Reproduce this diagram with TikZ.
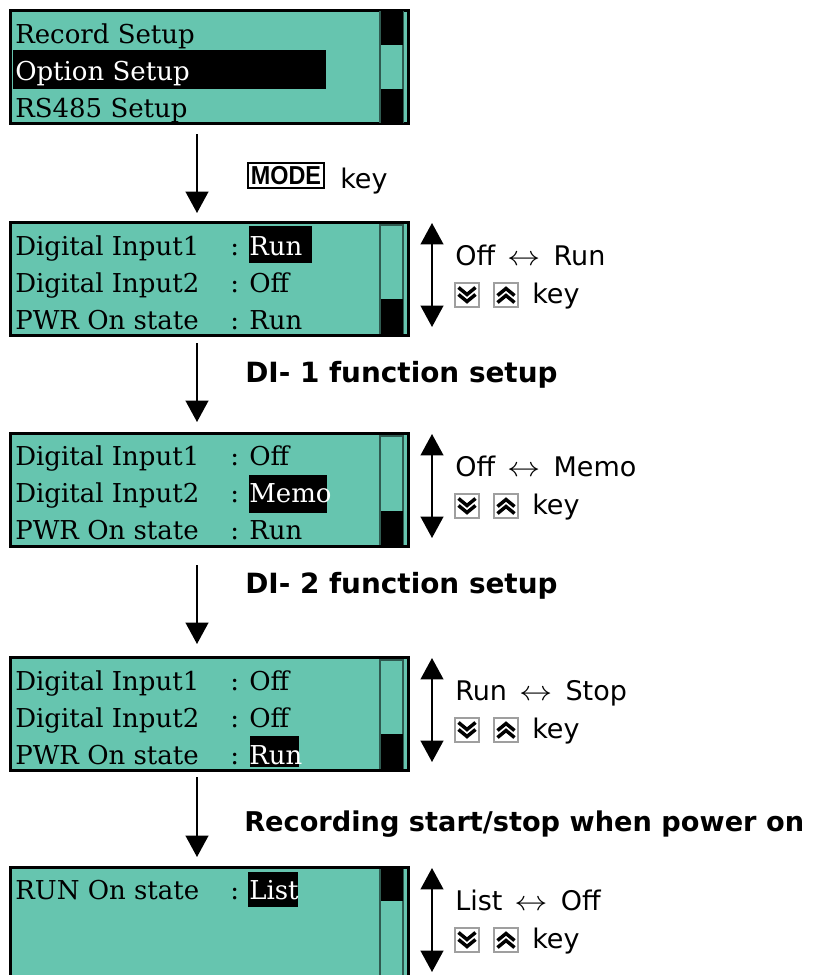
\documentclass[tikz,border=0pt]{standalone}
\usepackage{graphicx}
\usepackage{fontspec}
\setmainfont{DejaVu Serif}
\newfontfamily\gothic{DejaVu Sans}
\newfontfamily\arialf{Liberation Sans}
\usetikzlibrary{arrows.meta,calc}
\definecolor{lcdteal}{HTML}{66C5AF}
\definecolor{sbline}{HTML}{2F5A50}
\newcommand\lrarr{\hspace{9pt}\scalebox{1.2}[1]{$\leftrightarrow$}\hspace{10pt}}
\begin{document}
\begin{tikzpicture}[x=0.75pt,y=-0.75pt,
  lcd/.style={draw=black,line width=2.25pt,fill=lcdteal,rectangle,minimum width=298.5pt,outer sep=0pt,inner sep=0pt,anchor=north west},
  sbtrack/.style={draw=sbline,line width=1.1pt,fill=lcdteal},
  lt/.style={anchor=base west,inner sep=0pt,font=\fontsize{19.5pt}{22pt}\selectfont},
  lw/.style={lt,text=white},
  flow/.style={-{Triangle[width=17pt,length=16pt]},line width=1.5pt},
  flow2/.style={{Triangle[width=17pt,length=16pt]}-{Triangle[width=17pt,length=16pt]},line width=1.5pt},
  lab/.style={anchor=base west,inner sep=0pt,font=\gothic\fontsize{20.25pt}{24pt}\selectfont},
  blab/.style={anchor=base west,inner sep=0pt,font=\gothic\bfseries\fontsize{20.9pt}{24pt}\selectfont},
  blabs/.style={anchor=base west,inner sep=0pt,font=\gothic\bfseries\fontsize{20.4pt}{24pt}\selectfont},
  keyframe/.style={draw=gray!75,line width=0.8pt,fill=white},
  chev/.style={draw=black,line width=2.6pt,line cap=butt,line join=miter},
  dnkey/.pic={\draw[keyframe] (0,0) rectangle (24,24);
              \draw[chev] (3.5,4.5)--(12,11.5)--(20.5,4.5) (3.5,11.5)--(12,18.5)--(20.5,11.5);},
  upkey/.pic={\draw[keyframe] (0,0) rectangle (24,24);
              \draw[chev] (3.5,19.5)--(12,12.5)--(20.5,19.5) (3.5,12.5)--(12,5.5)--(20.5,12.5);}
]
\clip (0,0) rectangle (816,975);
\fill[white] (0,0) rectangle (816,975);

% ---------- Box 1
\node[lcd,minimum height=84.75pt] (b1) at (10,10) {};
\draw[sbtrack] (380,12) rectangle (403,122);
\fill[black] (381,11) rectangle (402.5,45);
\fill[black] (381,89) rectangle (402.5,122.5);
\fill[black] (13,50) rectangle (326,89);
\node[lt] (t11) at (15,43) {Record Setup};
\node[lw] (t12) at (15,80) {Option Setup};
\node[lt] (t13) at (15,117) {RS485 Setup};

% ---------- Box 2
\node[lcd,minimum height=84.75pt] (b2) at (10,222) {};
\draw[sbtrack] (380,225) rectangle (403,333);
\fill[black] (381,299) rectangle (402.5,333.5);
\fill[black] (249,226) rectangle (312,263);
\node[lt] (t21) at (15,255) {Digital Input1};
\node[lt] (t22) at (15,292) {Digital Input2};
\node[lt] (t23) at (15,329) {PWR On state};
\node[lt] (c21) at (230,255) {:};
\node[lt] (c22) at (230,292) {:};
\node[lt] (c23) at (230,329) {:};
\node[lw] (v21) at (249,255) {Run};
\node[lt] (v22) at (249,292) {Off};
\node[lt] (v23) at (249,329) {Run};

% ---------- Box 3
\node[lcd,minimum height=84.75pt] (b3) at (10,433) {};
\draw[sbtrack] (380,436) rectangle (403,544);
\fill[black] (381,511) rectangle (402.5,544.5);
\fill[black] (249,475) rectangle (327,513);
\node[lt] (t31) at (15,465) {Digital Input1};
\node[lt] (t32) at (15,502) {Digital Input2};
\node[lt] (t33) at (15,539) {PWR On state};
\node[lt] (c31) at (230,465) {:};
\node[lt] (c32) at (230,502) {:};
\node[lt] (c33) at (230,539) {:};
\node[lt] (v31) at (249,465) {Off};
\node[lw] (v32) at (249,502) {Memo};
\node[lt] (v33) at (249,539) {Run};

% ---------- Box 4
\node[lcd,minimum height=84.75pt] (b4) at (10,657) {};
\draw[sbtrack] (380,660) rectangle (403,768);
\fill[black] (381,734) rectangle (402.5,768.5);
\fill[black] (250,736) rectangle (299,767);
\node[lt] (t41) at (15,690) {Digital Input1};
\node[lt] (t42) at (15,727) {Digital Input2};
\node[lt] (t43) at (15,764) {PWR On state};
\node[lt] (c41) at (230,690) {:};
\node[lt] (c42) at (230,727) {:};
\node[lt] (c43) at (230,764) {:};
\node[lt] (v41) at (249,690) {Off};
\node[lt] (v42) at (249,727) {Off};
\node[lw] (v43) at (249,764) {Run};

% ---------- Box 5
\node[lcd,minimum height=97.5pt] (b5) at (10,867) {};
\draw[sbtrack] (380,870) rectangle (403,995);
\fill[black] (381,869) rectangle (402.5,901);
\fill[black] (248,872) rectangle (298,907);
\node[lt] (t51) at (15,899) {RUN On state};
\node[lt] (c51) at (230,899) {:};
\node[lw] (v51) at (249,899) {List};

% ---------- flow arrows
\draw[flow] ($(b1.south west)+(187,11)$) -- ($(b2.north west)+(187,-9)$);
\draw[flow] ($(b2.south west)+(187,8)$) -- ($(b3.north west)+(187,-11)$);
\draw[flow] ($(b3.south west)+(187,19)$) -- ($(b4.north west)+(187,-13)$);
\draw[flow] ($(b4.south west)+(187,7)$) -- ($(b5.north west)+(187,-10)$);

% ---------- flow labels
\node[draw=black,line width=1.2pt,minimum width=57pt,minimum height=18.75pt,inner sep=0pt,
      font=\arialf\bfseries\fontsize{19.5pt}{19.5pt}\selectfont] (mode) at (286,175.5) {\scalebox{0.9}[1]{MODE}};
\node[lab] (modekey) at (340,188) {key};
\node[blab] (l1) at (245,382) {DI- 1 function setup};
\node[blab] (l2) at (245,593) {DI- 2 function setup};
\node[blabs] (l3) at (244,831) {Recording start/stop when power on};

% ---------- up/down arrows and side labels
\draw[flow2] ($(b2.north west)+(422,1)$) -- ($(b2.south west)+(422,-8)$);
\node[lab] (s21) at (455,265) {Off\lrarr Run};
\pic at (455,283) {dnkey};
\pic at (494,283) {upkey};
\node[lab] (k2) at (532,303) {key};

\draw[flow2] ($(b3.north west)+(422,1)$) -- ($(b3.south west)+(422,-8)$);
\node[lab] (s31) at (455,476) {Off\lrarr Memo};
\pic at (455,494) {dnkey};
\pic at (494,494) {upkey};
\node[lab] (k3) at (532,514) {key};

\draw[flow2] ($(b4.north west)+(422,1)$) -- ($(b4.south west)+(422,-8)$);
\node[lab] (s41) at (455,700) {Run\lrarr Stop};
\pic at (455,718) {dnkey};
\pic at (494,718) {upkey};
\node[lab] (k4) at (532,738) {key};

\draw[flow2] ($(b5.north west)+(422,1)$) -- ($(b5.north west)+(422,105)$);
\node[lab] (s51) at (455,910) {List\lrarr Off};
\pic at (455,928) {dnkey};
\pic at (494,928) {upkey};
\node[lab] (k5) at (532,948) {key};
\end{tikzpicture}
\end{document}
